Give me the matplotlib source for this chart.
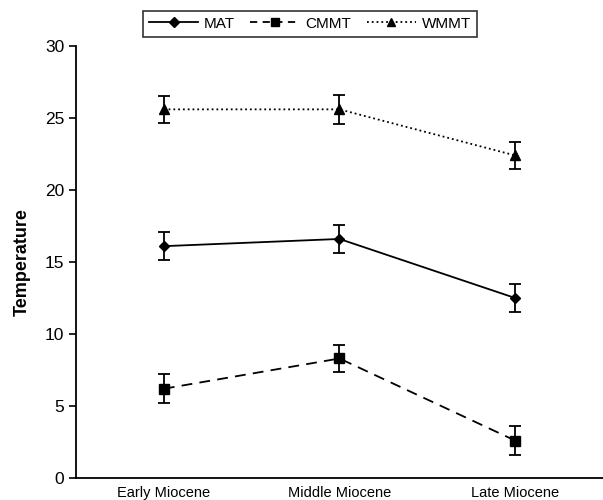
import matplotlib
matplotlib.use("Agg")
import matplotlib.pyplot as plt
from matplotlib.lines import Line2D

plt.rcParams['font.family'] = ['Liberation Sans', 'DejaVu Sans']

periods = ["Early Miocene", "Middle Miocene", "Late Miocene"]
mat = [16.1, 16.6, 12.5]
mat_err = [0.95, 0.95, 0.95]
cmmt = [6.2, 8.3, 2.6]
cmmt_err = [1.0, 0.95, 1.0]
wmmt = [25.6, 25.6, 22.4]
wmmt_err = [0.95, 1.0, 0.95]
yticks = [0, 5, 10, 15, 20, 25, 30]

fig = plt.figure(figsize=(6.03, 5.0), dpi=100)
ax = fig.add_axes([0.126, 0.044, 0.874, 0.864])

x = list(range(len(periods)))
common = dict(color='black', ecolor='black', elinewidth=1.3, capsize=4.5, capthick=1.3, lw=1.3)
ax.errorbar(x, mat, yerr=mat_err, fmt='-', marker='D', ms=5.5, **common)
ax.errorbar(x, cmmt, yerr=cmmt_err, fmt='--', marker='s', ms=6.5, dashes=(6, 4), **common)
ax.errorbar(x, wmmt, yerr=wmmt_err, fmt=':', marker='^', ms=7, **common)

ax.set_xlim(-0.5, 2.5)
ax.set_ylim(0, 30)
ax.set_yticks(yticks)
ax.set_xticks(x)
ax.set_xticklabels(periods, fontsize=10.5)
ax.tick_params(axis='x', length=0, pad=6)
ax.tick_params(axis='y', labelsize=12.5, length=5, width=1.2, direction='out')
ax.set_ylabel('Temperature', fontsize=13, fontweight='bold', labelpad=10)

for s in ['top', 'right']:
    ax.spines[s].set_visible(False)
for s in ['left', 'bottom']:
    ax.spines[s].set_linewidth(1.3)

handles = [
    Line2D([], [], color='black', lw=1.3, ls='-', marker='D', ms=5),
    Line2D([], [], color='black', lw=1.3, ls=(0, (4, 3)), marker='s', ms=5.5),
    Line2D([], [], color='black', lw=1.3, ls=':', marker='^', ms=6),
]
leg = ax.legend(handles, ['MAT', 'CMMT', 'WMMT'], loc='lower center',
                bbox_to_anchor=(0.444, 1.0), ncol=3, frameon=True,
                fancybox=False, edgecolor='black', fontsize=11, handlelength=3.2,
                columnspacing=1.0, handletextpad=0.4, borderpad=0.4, borderaxespad=0.6)
leg.get_frame().set_linewidth(1.2)

fig.savefig('out.png', dpi=100)
